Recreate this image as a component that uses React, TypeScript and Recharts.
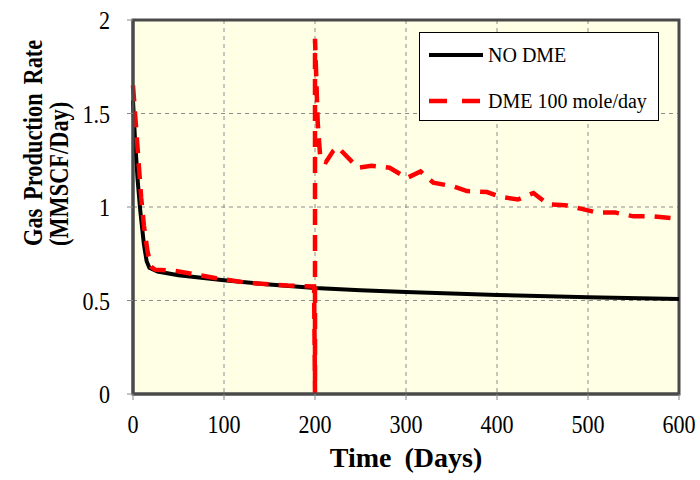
import React from "react";
import { LineChart, Line, XAxis, YAxis, CartesianGrid, ReferenceArea, Label } from "recharts";

const noDmeDays = [0, 2, 5, 8, 12, 15, 18, 27, 50, 100, 150, 200, 250, 300, 400, 500, 600];
const noDmeRate = [1.57, 1.38, 1.15, 0.98, 0.8, 0.71, 0.675, 0.655, 0.635, 0.608, 0.585, 0.567, 0.555, 0.545, 0.53, 0.518, 0.508];

const dmeDays = [0, 3, 6, 9, 12, 16, 20, 24, 45, 90, 125, 170, 199, 200, 200, 201, 203, 206, 212, 220, 225, 231, 247, 262, 282, 301, 316, 330, 352, 367, 389, 403, 423, 440, 456, 475, 493, 510, 530, 550, 571, 592];
const dmeRate = [1.65, 1.45, 1.25, 1.05, 0.9, 0.76, 0.68, 0.665, 0.66, 0.62, 0.595, 0.58, 0.575, 0, 1.9, 1.75, 1.45, 1.25, 1.24, 1.3, 1.32, 1.29, 1.21, 1.22, 1.21, 1.155, 1.19, 1.13, 1.11, 1.085, 1.08, 1.055, 1.04, 1.075, 1.015, 1.01, 0.99, 0.97, 0.97, 0.95, 0.95, 0.94];

const xTicks = [0, 100, 200, 300, 400, 500, 600];
const yTicks = [0, 0.5, 1, 1.5, 2];

const seriesNames = ["NO DME", "DME 100 mole/day"];
const xTitle = "Time (Days)";
const yTitle1 = "Gas Production Rate";
const yTitle2 = "(MMSCF/Day)";

const noDmeData = noDmeDays.map((d, i) => ({ day: d, rate: noDmeRate[i] }));
const dmeData = dmeDays.map((d, i) => ({ day: d, rate: dmeRate[i] }));

const FONT = "Liberation Serif, Times New Roman, serif";

const YTitle = () => {
  const lines = [
    { x: 42, text: yTitle1 },
    { x: 68, text: yTitle2 },
  ];
  const yStart = 246;
  return (
    <g>
      {lines.map((l) => (
        <g key={l.text} transform={`translate(${l.x},${yStart}) rotate(-90)`}>
          <text x={0} y={0} transform="scale(0.8,1)" style={{ fontFamily: FONT, fontWeight: "bold", fontSize: 28, wordSpacing: 4 }} fill="#000" textAnchor="start">
            {l.text}
          </text>
        </g>
      ))}
    </g>
  );
};

const XTick = (props: any) => {
  const { x, y, payload } = props;
  return (
    <g transform={`translate(${x},${y})`}>
      <text x={0} y={0} dy={20} transform="scale(0.85,1)" textAnchor="middle" style={{ fontFamily: FONT, fontSize: 26 }} fill="#000">
        {payload.value}
      </text>
    </g>
  );
};

const YTick = (props: any) => {
  const { x, y, payload } = props;
  return (
    <g transform={`translate(${x},${y})`}>
      <text x={0} y={0} dy={9} transform="scale(0.85,1)" textAnchor="end" style={{ fontFamily: FONT, fontSize: 26 }} fill="#000">
        {payload.value}
      </text>
    </g>
  );
};

export default function App() {
  return (
    <div style={{ position: "absolute", left: 0, top: 0, width: 700, height: 480, background: "#fff", fontFamily: FONT }}>
      <LineChart width={700} height={480} margin={{ top: 20, right: 21, bottom: 46, left: 70 }} style={{ fontFamily: FONT }}>
        <CartesianGrid fill="#FFFFE6" stroke="#8c8c8c" strokeDasharray="4 4" strokeWidth={1} />
        <XAxis
          dataKey="day"
          type="number"
          domain={[0, 600]}
          ticks={xTicks}
          allowDuplicatedCategory={false}
          height={40}
          tickSize={6}
          tickMargin={13}
          axisLine={{ stroke: "#4a4a4a", strokeWidth: 3 }}
          tickLine={{ stroke: "#888" }}
          tick={<XTick />}
        >
          <Label value={xTitle} position="bottom" offset={0} dy={13} style={{ fontFamily: FONT, fontWeight: "bold", fontSize: 28, fill: "#000", wordSpacing: 6 }} />
        </XAxis>
        <YAxis
          type="number"
          domain={[0, 2]}
          ticks={yTicks}
          width={63}
          tickSize={6}
          tickMargin={17}
          axisLine={{ stroke: "#4a4a4a", strokeWidth: 3 }}
          tickLine={{ stroke: "#888" }}
          tick={<YTick />}
        >
          <Label content={<YTitle />} />
        </YAxis>
        <ReferenceArea x1={0} x2={600} y1={0} y2={2} fill="none" stroke="#4a4a4a" strokeWidth={3} />
        <Line data={noDmeData} dataKey="rate" name={seriesNames[0]} type="linear" stroke="#000" strokeWidth={4} dot={false} isAnimationActive={false} />
        <Line data={dmeData} dataKey="rate" name={seriesNames[1]} type="linear" stroke="#ff0000" strokeWidth={4.5} strokeDasharray="16 10" dot={false} isAnimationActive={false} />
      </LineChart>
      <div
        style={{
          position: "absolute",
          left: 419,
          top: 32,
          width: 238,
          height: 87,
          background: "#fff",
          border: "1.5px solid #000",
          fontFamily: FONT,
          fontSize: 20,
          color: "#000",
        }}
      >
        <div style={{ position: "absolute", left: 9, top: 10, display: "flex", alignItems: "center", height: 24 }}>
          <svg width={54} height={10}>
            <line x1={0} y1={5} x2={54} y2={5} stroke="#000" strokeWidth={4} />
          </svg>
          <span style={{ marginLeft: 5 }}>{seriesNames[0]}</span>
        </div>
        <div style={{ position: "absolute", left: 9, top: 56, display: "flex", alignItems: "center", height: 24 }}>
          <svg width={54} height={10}>
            <line x1={0} y1={5} x2={54} y2={5} stroke="#ff0000" strokeWidth={4.5} strokeDasharray="18 15" />
          </svg>
          <span style={{ marginLeft: 5 }}>{seriesNames[1]}</span>
        </div>
      </div>
    </div>
  );
}
